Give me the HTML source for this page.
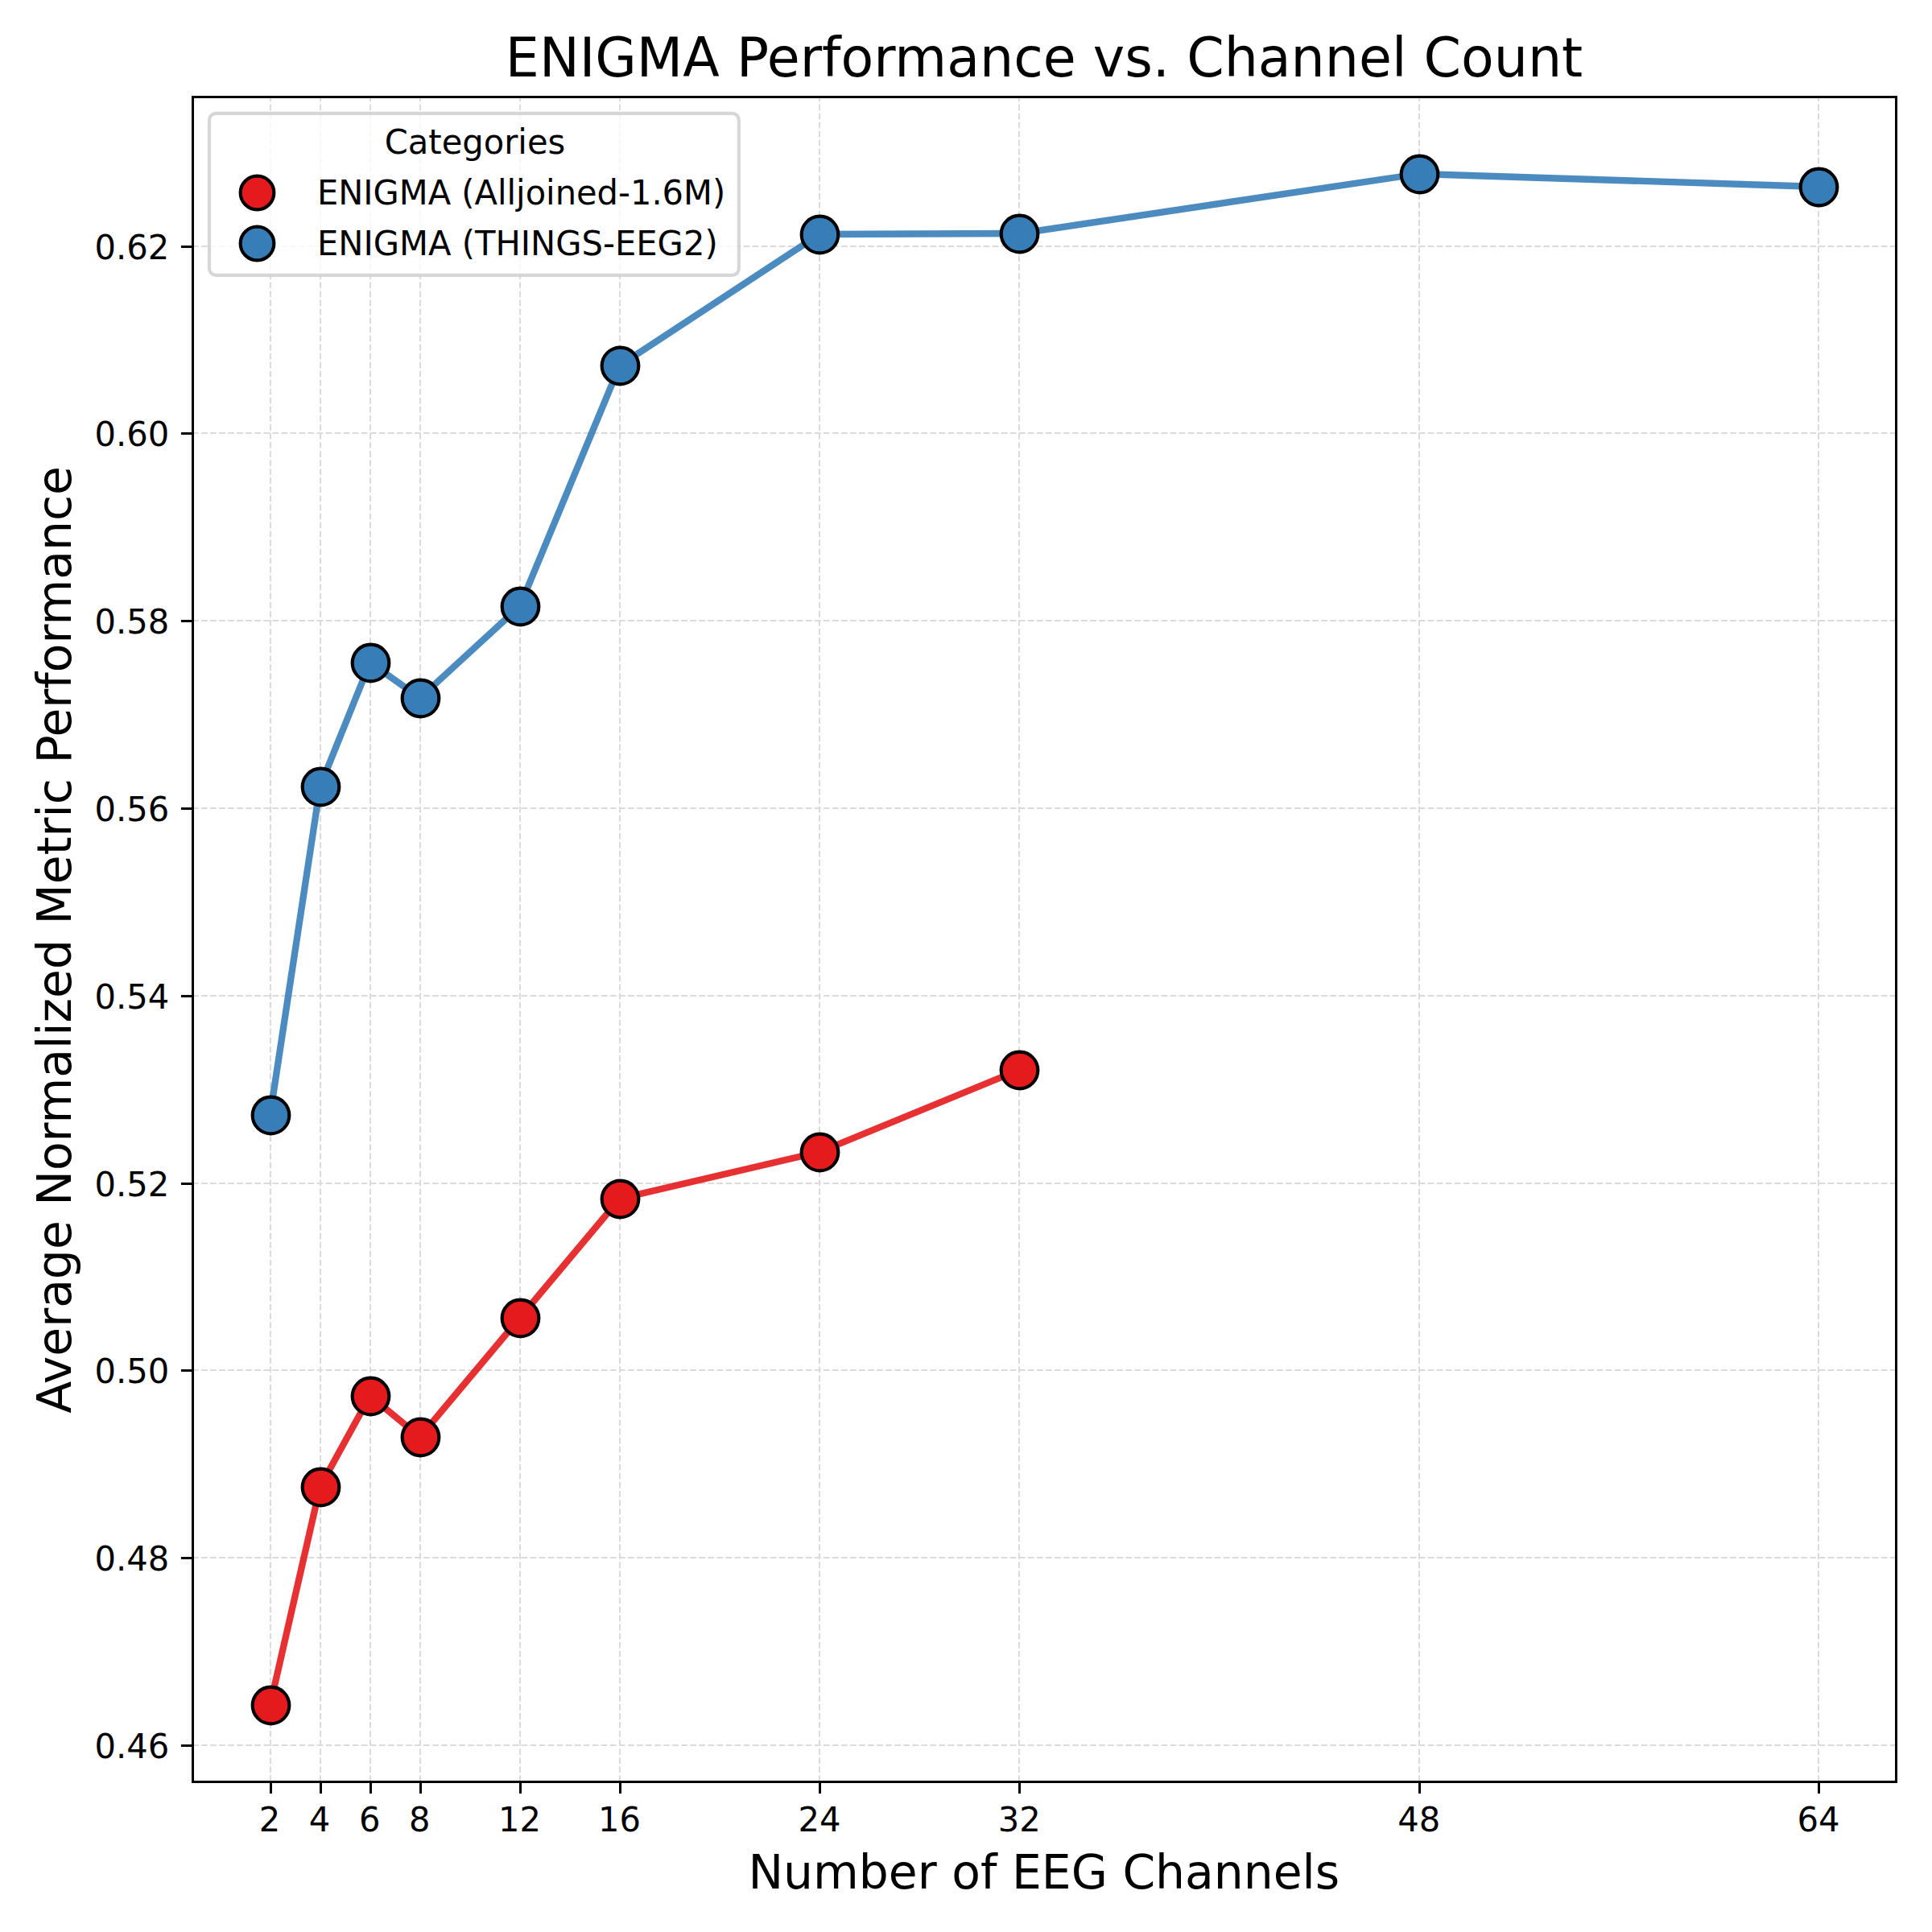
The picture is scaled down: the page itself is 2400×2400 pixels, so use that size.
<!DOCTYPE html>
<html lang="en"><head><meta charset="utf-8"><title>ENIGMA Performance vs. Channel Count</title>
<style>html,body{margin:0;padding:0;background:#fff}body{width:2400px;height:2400px;overflow:hidden}svg{display:block}text{font-family:"DejaVu Sans","Liberation Sans",sans-serif;fill:#000}.t10{font-size:41.667px}.t14{font-size:58.333px}.t16{font-size:66.667px}.grid{stroke:#b0b0b0;stroke-opacity:.46;stroke-width:2;stroke-dasharray:7.708 3.333;fill:none}.tick{stroke:#000;stroke-width:3;fill:none}.ln{fill:none;stroke-width:8.333;stroke-linejoin:round;stroke-linecap:butt;stroke-opacity:0.9}.mk{stroke:#000;stroke-width:4.167}</style></head><body>
<svg width="2400" height="2400" viewBox="0 0 2400 2400">
<rect width="2400" height="2400" fill="#fff"/>
<path class="grid" d="M336 2213V120M398 2213V120M460 2213V120M522 2213V120M646 2213V120M770 2213V120M1018 2213V120M1266 2213V120M1763 2213V120M2259 2213V120M239 306H2356M239 538H2356M239 771H2356M239 1004H2356M239 1237H2356M239 1470H2356M239 1702H2356M239 1935H2356M239 2168H2356"/>
<path class="tick" d="M336.5 2213.5v14.58M398.5 2213.5v14.58M460.5 2213.5v14.58M522.5 2213.5v14.58M646.5 2213.5v14.58M770.5 2213.5v14.58M1018.5 2213.5v14.58M1266.5 2213.5v14.58M1763.5 2213.5v14.58M2259.5 2213.5v14.58M239.5 306.5h-14.58M239.5 538.5h-14.58M239.5 771.5h-14.58M239.5 1004.5h-14.58M239.5 1237.5h-14.58M239.5 1470.5h-14.58M239.5 1702.5h-14.58M239.5 1935.5h-14.58M239.5 2168.5h-14.58"/>
<path class="ln" stroke="#e41a1c" d="M335.57 2118L397.62 1847L459.67 1734L521.71 1785L645.81 1637L769.9 1489L1018.09 1431L1266.28 1329"/>
<path class="ln" stroke="#377eb8" d="M335.57 1385L397.62 977L459.67 823L521.71 867L645.81 753L769.9 454L1018.09 291L1266.28 290L1762.65 216L2259.03 232"/>
<rect x="239.5" y="120.5" width="2116.0" height="2093.0" fill="none" stroke="#000" stroke-width="3"/>
<g class="mk" fill="#e41a1c"><circle cx="336.5" cy="2118.5" r="22.82"/><circle cx="398.5" cy="1847.5" r="22.82"/><circle cx="460.5" cy="1734.5" r="22.82"/><circle cx="522.5" cy="1785.5" r="22.82"/><circle cx="646.5" cy="1637.5" r="22.82"/><circle cx="770.5" cy="1489.5" r="22.82"/><circle cx="1018.5" cy="1431.5" r="22.82"/><circle cx="1266.5" cy="1329.5" r="22.82"/></g>
<g class="mk" fill="#377eb8"><circle cx="336.5" cy="1385.5" r="22.82"/><circle cx="398.5" cy="977.5" r="22.82"/><circle cx="460.5" cy="823.5" r="22.82"/><circle cx="522.5" cy="867.5" r="22.82"/><circle cx="646.5" cy="753.5" r="22.82"/><circle cx="770.5" cy="454.5" r="22.82"/><circle cx="1018.5" cy="291.5" r="22.82"/><circle cx="1266.5" cy="290.5" r="22.82"/><circle cx="1763.5" cy="216.5" r="22.82"/><circle cx="2259.5" cy="232.5" r="22.82"/></g>
<text class="t10" text-anchor="middle" transform="translate(334.97 2275) scale(1 1.02)">2</text>
<text class="t10" text-anchor="middle" transform="translate(397.02 2275) scale(1 1.02)">4</text>
<text class="t10" text-anchor="middle" transform="translate(459.17 2275) scale(1 1.02)">6</text>
<text class="t10" text-anchor="middle" transform="translate(521.21 2275) scale(1 1.02)">8</text>
<text class="t10" text-anchor="middle" transform="translate(645.41 2275) scale(1 1.02)">12</text>
<text class="t10" text-anchor="middle" transform="translate(769.6 2275) scale(1 1.02)">16</text>
<text class="t10" text-anchor="middle" transform="translate(1018.09 2275) scale(1 1.02)">24</text>
<text class="t10" text-anchor="middle" transform="translate(1266.28 2275) scale(1 1.02)">32</text>
<text class="t10" text-anchor="middle" transform="translate(1762.65 2275) scale(1 1.02)">48</text>
<text class="t10" text-anchor="middle" transform="translate(2259.03 2275) scale(1 1.02)">64</text>
<text class="t10" text-anchor="end" transform="translate(210.3 321.5) scale(1 1.02)">0.62</text>
<text class="t10" text-anchor="end" transform="translate(210.3 553.5) scale(1 1.02)">0.60</text>
<text class="t10" text-anchor="end" transform="translate(210.3 786.5) scale(1 1.02)">0.58</text>
<text class="t10" text-anchor="end" transform="translate(210.3 1019.5) scale(1 1.02)">0.56</text>
<text class="t10" text-anchor="end" transform="translate(210.3 1252.5) scale(1 1.02)">0.54</text>
<text class="t10" text-anchor="end" transform="translate(210.3 1485.5) scale(1 1.02)">0.52</text>
<text class="t10" text-anchor="end" transform="translate(210.3 1717.5) scale(1 1.02)">0.50</text>
<text class="t10" text-anchor="end" transform="translate(210.3 1950.5) scale(1 1.02)">0.48</text>
<text class="t10" text-anchor="end" transform="translate(210.3 2183.5) scale(1 1.02)">0.46</text>
<text class="t16" text-anchor="middle" transform="translate(1297 95) scale(0.9985 1.006)">ENIGMA Performance vs. Channel Count</text>
<text class="t14" text-anchor="middle" transform="translate(1296.8 2346) scale(1 1.01)">Number of EEG Channels</text>
<text class="t14" text-anchor="middle" transform="translate(88 1167.4) rotate(-90) scale(1 1.01)">Average Normalized Metric Performance</text>
<rect x="260.0" y="140.8" width="657.85" height="201.1" rx="8.33" ry="8.33" fill="#fff" fill-opacity=".8" stroke="#ccc" stroke-opacity=".8" stroke-width="4.167"/>
<text class="t10" text-anchor="middle" transform="translate(590 191) scale(1 1.02)">Categories</text>
<circle class="mk" fill="#e41a1c" cx="319.5" cy="239.5" r="20.83"/>
<circle class="mk" fill="#377eb8" cx="319.5" cy="302.5" r="20.83"/>
<text class="t10" transform="translate(394 254) scale(0.998 1.02)">ENIGMA (Alljoined-1.6M)</text>
<text class="t10" transform="translate(394 317) scale(1 1.02)">ENIGMA (THINGS-EEG2)</text>
</svg></body></html>
